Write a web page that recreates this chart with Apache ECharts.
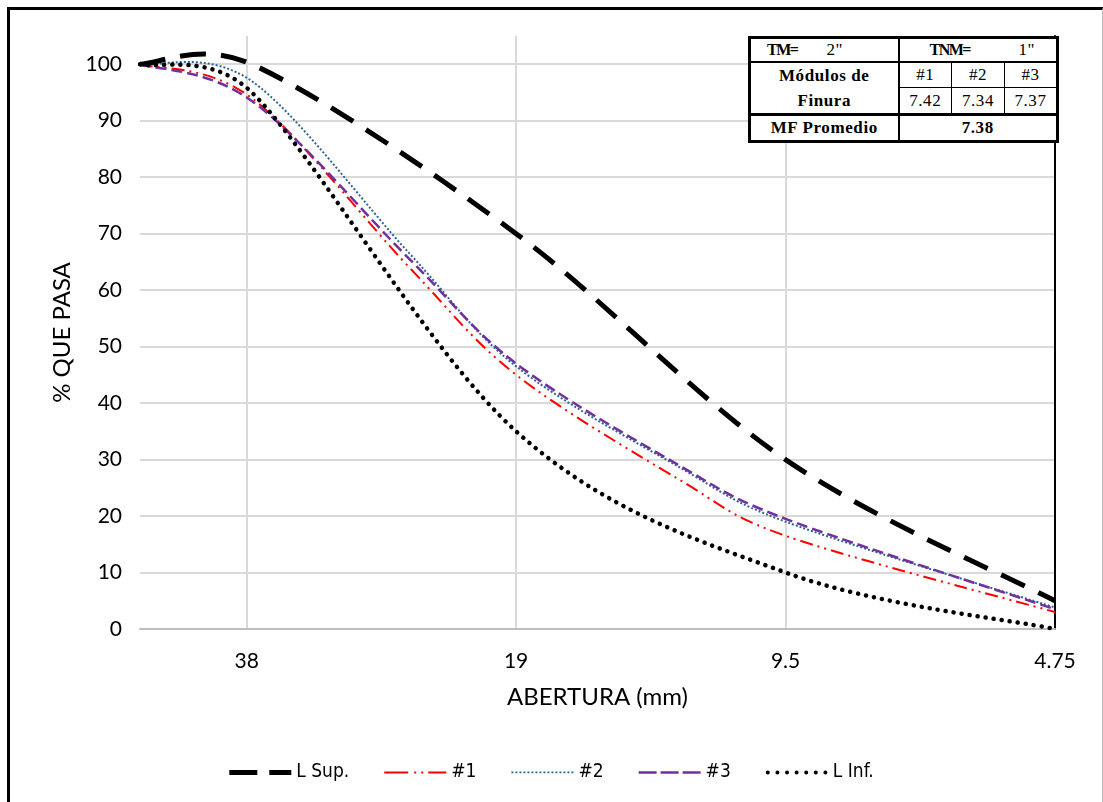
<!DOCTYPE html>
<html>
<head>
<meta charset="utf-8">
<script src="https://cdn.jsdelivr.net/npm/echarts@6/dist/echarts.min.js"></script>
<style>
  html, body { margin: 0; padding: 0; background: #fff; }
  #wrap { position: relative; width: 1103px; height: 802px; overflow: hidden; }
  #frame { position: absolute; left: 7px; top: 7px; width: 1092px; height: 820px;
           border-left: 3px solid #000; border-top: 3px solid #000; border-right: 1px solid #bbb; }
  #chart { position: absolute; left: 0; top: 0; width: 1103px; height: 802px; }
  #mf { position: absolute; left: 748px; top: 36px; width: 308px; height: 103px; table-layout: fixed;
        border-collapse: collapse; background: #fff; z-index: 5; border: 3px solid #000;
        font-family: "Liberation Serif", "DejaVu Serif", serif; font-size: 17px; color: #000; }
  #mf td { border: 1px solid #000; text-align: center; padding: 0; line-height: 18px; letter-spacing: 0.6px;
           white-space: nowrap; overflow: hidden; }
  #mf tr.r1 td { height: 22px; border-bottom: 2px solid #000; text-align: left; }
  #mf tr.r4 td { height: 24px; border-top: 3px solid #000; }
  #mf td.lc { border-right: 2px solid #000; }
  #mf .b { font-weight: bold; }
  #mf .t { letter-spacing: -1.5px; font-size: 16px; }
  #mf td.mod { line-height: 25px; }
</style>
</head>
<body>
<div id="wrap">
  <div id="frame"></div>
  <div id="chart"></div>
  <table id="mf">
    <colgroup><col style="width:149px"><col style="width:53px"><col style="width:53px"><col style="width:53px"></colgroup>
    <tr class="r1">
      <td class="lc" style="padding-left:16px"><span class="b t">TM=</span>&nbsp;&nbsp;&nbsp;&nbsp;&nbsp;&nbsp;2"</td>
      <td colspan="3" style="padding-left:30px"><span class="b t">TNM=</span>&nbsp;&nbsp;&nbsp;&nbsp;&nbsp;&nbsp;&nbsp;&nbsp;&nbsp;&nbsp;1"</td>
    </tr>
    <tr>
      <td class="lc b mod" rowspan="2">Módulos de<br>Finura</td>
      <td>#1</td><td>#2</td><td>#3</td>
    </tr>
    <tr><td>7.42</td><td>7.34</td><td>7.37</td></tr>
    <tr class="r4">
      <td class="lc b">MF Promedio</td>
      <td colspan="3" class="b">7.38</td>
    </tr>
  </table>
</div>
<script>
// sieve openings (mm)
var sievesLimits = [50, 37.5, 19, 9.5, 4.75];
var sievesSample = [50, 37.5, 25, 19, 12.5, 9.5, 4.75];

// % passing
var lSup = [100, 100, 70, 30, 5];
var lInf = [100, 95, 35, 10, 0];
var m1 = [100, 94, 64, 45, 26.5, 16.5, 3];
var m2 = [100, 97, 66.5, 46.5, 28.7, 19, 3.8];
var m3 = [100, 93.5, 65.5, 47, 29, 19.5, 3.5];

var seriesNames = ['L Sup.', '#1', '#2', '#3', 'L Inf.'];

var BASE = 4.75;   // x axis = log2(opening / 4.75)
var X_MAX = Math.log2(50 / BASE);

function pairs(sizes, vals) {
  return sizes.map(function (s, i) { return [Math.log2(s / BASE), vals[i]]; });
}

// excel style smoothing: tangent (P2-P0)/6, capped at half the segment length
function ctrl(a, b, dir, seg) {
  var dx = b[0] - a[0], dy = b[1] - a[1];
  var len = Math.sqrt(dx * dx + dy * dy);
  if (len === 0) return [0, 0];
  var f = 1 / 6;
  if (len * f > seg / 2) f = seg / 2 / len;
  return [dx * f * dir, dy * f * dir];
}
function smoothRender(data, st) {
  return function (params, api) {
    if (params.dataIndex !== 0) return null;
    var p = data.map(function (d) { return api.coord(d); });
    var n = p.length;
    var d = 'M' + p[0][0] + ',' + p[0][1];
    for (var i = 0; i < n - 1; i++) {
      var p0 = p[Math.max(i - 1, 0)], p1 = p[i], p2 = p[i + 1], p3 = p[Math.min(i + 2, n - 1)];
      var seg = Math.sqrt(Math.pow(p2[0] - p1[0], 2) + Math.pow(p2[1] - p1[1], 2));
      var t1 = ctrl(p0, p2, 1, seg), t2 = ctrl(p1, p3, -1, seg);
      d += 'C' + (p1[0] + t1[0]) + ',' + (p1[1] + t1[1]) + ' ' +
           (p2[0] + t2[0]) + ',' + (p2[1] + t2[1]) + ' ' + p2[0] + ',' + p2[1];
    }
    return {
      type: 'path',
      shape: { pathData: d },
      style: { fill: 'none', stroke: st.color, lineWidth: st.width, lineDash: st.dash, lineCap: st.cap || 'butt' }
    };
  };
}

// legend icons (62 x 12 box)
var IW = 62;
var box = 'M0,0L0.01,0Z M' + IW + ',12L' + (IW + 0.01) + ',12Z ';
function rects(list, y, h) {
  return list.map(function (r) { return 'M' + r[0] + ',' + y + 'h' + r[1] + 'v' + h + 'h' + (-r[1]) + 'z'; }).join(' ');
}
var iconSup = box + rects([[0, 28], [40, 22]], 3.5, 5);
var iconM1 = box + rects([[0, 24], [30, 2], [37, 2], [44, 18]], 5, 2);
var dotsM2 = [];
for (var k = 0; k < 16; k++) dotsM2.push([k * 4, 2]);
var iconM2 = box + rects(dotsM2, 5, 1.8);
var iconM3 = box + rects([[0, 18], [22, 18], [44, 18]], 4.8, 2.5);
var iconInf = box;
for (var j = 0; j < 7; j++) {
  var cx = 2 + j * 9.6;
  iconInf += ' M' + (cx - 2) + ',6a2,2 0 1,0 4,0a2,2 0 1,0 -4,0z';
}

var font = 'Lato';
var chart = echarts.init(document.getElementById('chart'));

var styles = [
  { color: '#000', width: 5, dash: [26, 15] },
  { color: '#ff0000', width: 2, dash: [13, 5, 2, 5, 2, 5] },
  { color: '#2e6496', width: 2, dash: [2, 2] },
  { color: '#7030a0', width: 2.5, dash: [11, 5] },
  { color: '#000', width: 4.5, dash: [0.1, 8], cap: 'round' }
];
var datasets = [
  pairs(sievesLimits, lSup),
  pairs(sievesSample, m1),
  pairs(sievesSample, m2),
  pairs(sievesSample, m3),
  pairs(sievesLimits, lInf)
];
var icons = [iconSup, iconM1, iconM2, iconM3, iconInf];

var option = {
  animation: false,
  textStyle: { fontFamily: font },
  grid: { left: 140, right: 48, top: 36, bottom: 173 },
  xAxis: {
    type: 'value',
    inverse: true,
    min: 0,
    max: X_MAX,
    interval: 1,
    name: 'ABERTURA (mm)',
    nameLocation: 'middle',
    nameGap: 56,
    nameTextStyle: { fontSize: 24, color: '#000', fontFamily: font },
    axisLine: { show: true, lineStyle: { color: '#bfbfbf', width: 2 } },
    axisTick: { show: false },
    axisLabel: {
      fontSize: 21, color: '#000', margin: 22, showMaxLabel: false,
      formatter: function (v) { return String(+(BASE * Math.pow(2, v)).toFixed(2)); }
    },
    splitLine: { show: true, showMinLine: false, showMaxLine: false,
                 lineStyle: { color: '#d9d9d9', width: 2 } }
  },
  yAxis: [{
    type: 'value',
    min: 0,
    max: 105,
    interval: 10,
    name: '% QUE PASA',
    nameLocation: 'middle',
    nameGap: 66,
    nameTextStyle: { fontSize: 24, color: '#000', fontFamily: font },
    axisLine: { show: true, lineStyle: { color: '#bfbfbf', width: 2 } },
    axisTick: { show: false },
    axisLabel: { fontSize: 21, color: '#000', margin: 18, showMaxLabel: false },
    splitLine: { show: true, showMaxLine: false, showMinLine: false,
                 lineStyle: { color: '#d9d9d9', width: 2 } }
  }, {
    type: 'value',
    position: 'right',
    min: 0,
    max: 105,
    axisLine: { show: true, lineStyle: { color: '#000', width: 2 } },
    axisTick: { show: false },
    axisLabel: { show: false },
    splitLine: { show: false }
  }],
  legend: {
    top: 758,
    left: 'center',
    itemWidth: IW,
    itemHeight: 12,
    itemGap: 35,
    data: seriesNames.map(function (nm, i) { return { name: nm, icon: 'path://' + icons[i] }; }),
    textStyle: { fontSize: 19, color: '#000', fontFamily: '"Liberation Sans Narrow", "DejaVu Sans Condensed", sans-serif' }
  },
  series: seriesNames.map(function (nm, i) {
    return {
      name: nm,
      type: 'custom',
      data: datasets[i],
      z: i === 0 ? 6 : (i === 4 ? 5 : 4),
      itemStyle: { color: styles[i].color },
      renderItem: smoothRender(datasets[i], styles[i])
    };
  })
};
chart.setOption(option);
</script>
</body>
</html>
